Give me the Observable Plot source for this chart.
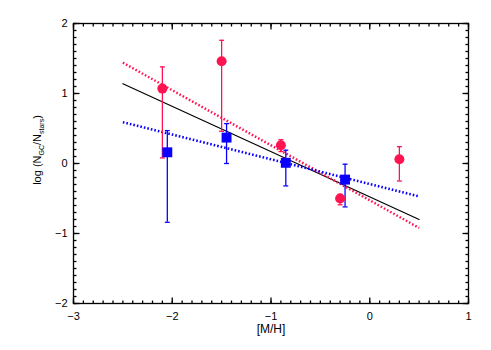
<!DOCTYPE html>
<html>
<head>
<meta charset="utf-8">
<script src="https://cdn.jsdelivr.net/npm/d3@7"></script>
<script src="https://cdn.jsdelivr.net/npm/@observablehq/plot@0.6"></script>
<style>
  html, body { margin: 0; padding: 0; background: #fff; }
  #chart svg { display: block; }
</style>
</head>
<body>
<div id="chart"></div>
<script>
// Red circles
const redX  = [-2.10, -1.50, -0.90, -0.30, 0.30];
const redY  = [1.07, 1.46, 0.26, -0.50, 0.06];
const redHi = [1.38, 1.76, 0.34, -0.44, 0.24];
const redLo = [0.08, 0.46, 0.17, -0.59, -0.25];

// Blue squares
const blueX  = [-2.05, -1.45, -0.85, -0.25];
const blueY  = [0.16, 0.37, 0.01, -0.23];
const blueHi = [0.47, 0.57, 0.19, -0.01];
const blueLo = [-0.84, 0.00, -0.32, -0.62];

// Fit lines (endpoints)
const fitX     = [-2.5, 0.5];
const blackFit = [1.14, -0.80];
const redFit   = [1.44, -0.92];
const blueFit  = [0.59, -0.47];

// Ticks
const xMajor = [-3, -2, -1, 0, 1];
const yMajor = [-2, -1, 0, 1, 2];
const xMinor = d3.range(-30, 11).map(i => i / 10);
const yMinor = d3.range(-20, 21).map(i => i / 10);
const xDomain = [-3, 1];
const yDomain = [-2, 2];

const RED = "#ff1452";
const BLUE = "#0a00ff";

const W = 491, H = 350;
const mL = 73, mR = 23, mT = 23, mB = 47;
const innerW = W - mL - mR, innerH = H - mT - mB;
const minorLen = 3, majorLen = 6;
const kx = (xDomain[1] - xDomain[0]) / innerW; // data units per pixel
const ky = (yDomain[1] - yDomain[0]) / innerH;

const red = redX.map((x, i) => ({x, y: redY[i], hi: redHi[i], lo: redLo[i]}));
const blue = blueX.map((x, i) => ({x, y: blueY[i], hi: blueHi[i], lo: blueLo[i]}));
const line = (ys) => fitX.map((x, i) => ({x, y: ys[i]}));
const fmt = d => d < 0 ? "\u2212" + (-d) : String(d);
const capW = 0.025;

function xTicks(vals, len) {
  const l = len * ky;
  return [
    Plot.link(vals, {x1: d => d, x2: d => d, y1: () => yDomain[0], y2: () => yDomain[0] + l, stroke: "#000", strokeWidth: 1.3}),
    Plot.link(vals, {x1: d => d, x2: d => d, y1: () => yDomain[1], y2: () => yDomain[1] - l, stroke: "#000", strokeWidth: 1.3})
  ];
}
function yTicks(vals, len) {
  const l = len * kx;
  return [
    Plot.link(vals, {y1: d => d, y2: d => d, x1: () => xDomain[0], x2: () => xDomain[0] + l, stroke: "#000", strokeWidth: 1.3}),
    Plot.link(vals, {y1: d => d, y2: d => d, x1: () => xDomain[1], x2: () => xDomain[1] - l, stroke: "#000", strokeWidth: 1.3})
  ];
}

const chart = Plot.plot({
  width: W,
  height: H,
  marginLeft: mL,
  marginRight: mR,
  marginTop: mT,
  marginBottom: mB,
  style: {fontFamily: "'Liberation Sans', Arial, Helvetica, sans-serif", fontSize: "11px", color: "#000", background: "#fff"},
  x: {domain: xDomain, axis: null},
  y: {domain: yDomain, axis: null},
  marks: [
    // inward ticks on all four sides
    ...xTicks(xMinor, minorLen),
    ...yTicks(yMinor, minorLen),
    ...xTicks(xMajor, majorLen),
    ...yTicks(yMajor, majorLen),
    // tick labels
    Plot.axisX(xMajor, {anchor: "bottom", tickSize: 0, tickPadding: 9, tickFormat: fmt, label: null, fontSize: 11, style: {letterSpacing: "1px"}}),
    Plot.axisY(yMajor, {anchor: "left", tickSize: 0, tickPadding: 6, tickFormat: fmt, label: null, fontSize: 11}),
    Plot.frame({stroke: "#000", strokeWidth: 1.3}),
    // fit lines
    Plot.line(line(blackFit), {x: "x", y: "y", stroke: "#000", strokeWidth: 1.2}),
    Plot.line(line(redFit), {x: "x", y: "y", stroke: RED, strokeWidth: 2.5, strokeDasharray: "1.6,2", strokeLinecap: "butt"}),
    Plot.line(line(blueFit), {x: "x", y: "y", stroke: BLUE, strokeWidth: 2.5, strokeDasharray: "1.6,2", strokeLinecap: "butt"}),
    // error bars
    Plot.ruleX(red, {x: "x", y1: "lo", y2: "hi", stroke: RED, strokeWidth: 1.3}),
    Plot.link(red, {x1: d => d.x - capW, x2: d => d.x + capW, y1: "hi", y2: "hi", stroke: RED, strokeWidth: 1.3}),
    Plot.link(red, {x1: d => d.x - capW, x2: d => d.x + capW, y1: "lo", y2: "lo", stroke: RED, strokeWidth: 1.3}),
    Plot.ruleX(blue, {x: "x", y1: "lo", y2: "hi", stroke: BLUE, strokeWidth: 1.3}),
    Plot.link(blue, {x1: d => d.x - capW, x2: d => d.x + capW, y1: "hi", y2: "hi", stroke: BLUE, strokeWidth: 1.3}),
    Plot.link(blue, {x1: d => d.x - capW, x2: d => d.x + capW, y1: "lo", y2: "lo", stroke: BLUE, strokeWidth: 1.3}),
    // points
    Plot.dot(red, {x: "x", y: "y", r: 5, fill: RED, stroke: "none"}),
    Plot.dot(blue, {x: "x", y: "y", r: 5.6, symbol: "square", fill: BLUE, stroke: "none"}),
    // x label
    Plot.text(["[M/H]"], {frameAnchor: "bottom", dy: 29, fontSize: 12, fill: "#000", style: {letterSpacing: "1.6px"}})
  ]
});

// y-axis label with subscripts
const svg = d3.select(chart);
const t = svg.append("text")
  .attr("transform", "translate(41,150) rotate(-90)")
  .attr("text-anchor", "middle")
  .attr("font-size", 11)
  .attr("fill", "#000");
t.append("tspan").text("log (N");
t.append("tspan").attr("font-size", 7).attr("dy", 3).text("GC");
t.append("tspan").attr("dy", -3).text("/N");
t.append("tspan").attr("font-size", 7).attr("dy", 3).text("stars");
t.append("tspan").attr("dy", -3).text(")");

document.getElementById("chart").appendChild(chart);
</script>
</body>
</html>
